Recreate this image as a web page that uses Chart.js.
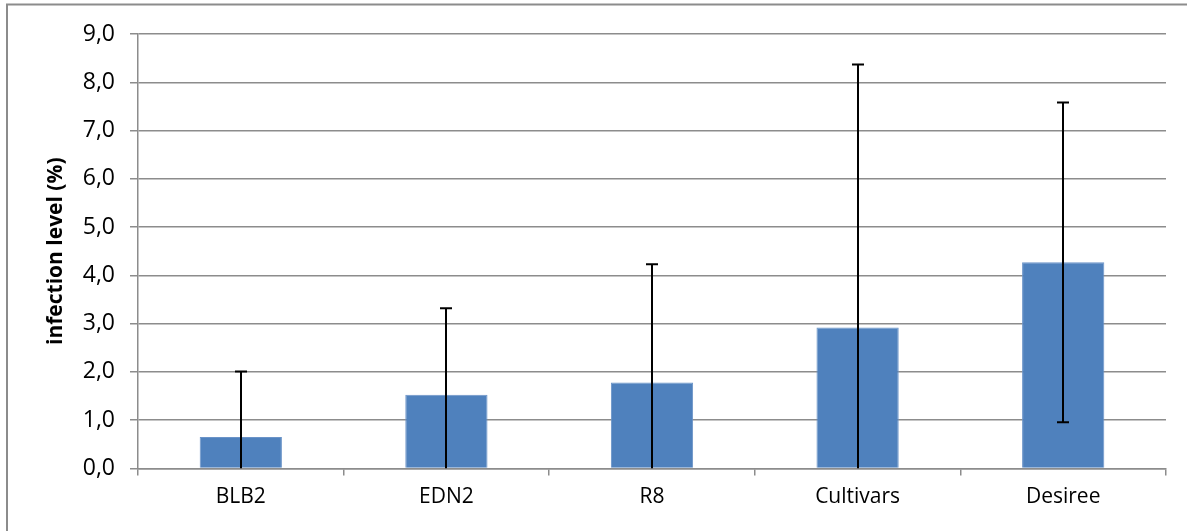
<!DOCTYPE html>
<html>
<head>
<meta charset="utf-8">
<script src="https://cdn.jsdelivr.net/npm/chart.js@4/dist/chart.umd.min.js"></script>
<style>
  html, body { margin: 0; padding: 0; background: #ffffff; }
  #wrap { position: relative; width: 1187px; height: 531px; }
</style>
</head>
<body>
<div id="wrap"><canvas id="c" width="1187" height="531"></canvas></div>
<script>
const categories = ['BLB2', 'EDN2', 'R8', 'Cultivars', 'Desiree'];
const infectionMeans = [0.65, 1.53, 1.78, 2.92, 4.27];
const infectionErrors = [1.36, 1.79, 2.45, 5.45, 3.31];
const yTickLabels = ['0,0', '1,0', '2,0', '3,0', '4,0', '5,0', '6,0', '7,0', '8,0', '9,0'];
const yAxisTitle = 'infection level (%)';

const FONT = "'Open Sans', 'DejaVu Sans', sans-serif";

const frame = {
  id: 'frame',
  beforeDraw(chart) {
    const ctx = chart.ctx;
    ctx.save();
    ctx.fillStyle = '#ffffff';
    ctx.fillRect(0, 0, chart.width, chart.height);
    ctx.strokeStyle = '#8c8c8c';
    ctx.lineWidth = 2;
    ctx.strokeRect(7, 4.5, chart.width + 20, chart.height + 20);
    ctx.restore();
  }
};

const errorBars = {
  id: 'errorBars',
  afterDatasetsDraw(chart) {
    const ctx = chart.ctx;
    const meta = chart.getDatasetMeta(0);
    const yScale = chart.scales.y;
    const area = chart.chartArea;
    ctx.save();
    ctx.beginPath();
    ctx.rect(area.left, area.top - 2, area.right - area.left, area.bottom - area.top + 2);
    ctx.clip();
    ctx.strokeStyle = '#000000';
    ctx.lineWidth = 2;
    meta.data.forEach((bar, i) => {
      const x = Math.round(bar.x);
      const hi = yScale.getPixelForValue(infectionMeans[i] + infectionErrors[i]);
      const loVal = infectionMeans[i] - infectionErrors[i];
      const lo = yScale.getPixelForValue(loVal);
      ctx.beginPath();
      ctx.moveTo(x, hi);
      ctx.lineTo(x, Math.min(lo, area.bottom));
      ctx.moveTo(x - 6, hi);
      ctx.lineTo(x + 6, hi);
      if (loVal > 0) {
        ctx.moveTo(x - 6, lo);
        ctx.lineTo(x + 6, lo);
      }
      ctx.stroke();
    });
    ctx.restore();
  }
};

new Chart(document.getElementById('c'), {
  type: 'bar',
  data: {
    labels: categories,
    datasets: [{
      data: infectionMeans,
      backgroundColor: '#4f81bd',
      borderColor: '#6a93c8',
      borderWidth: 1,
      barPercentage: 0.4,
      categoryPercentage: 1.0
    }]
  },
  options: {
    responsive: false,
    animation: false,
    devicePixelRatio: 1,
    layout: { padding: { left: 0, top: 34, right: 21, bottom: 0 } },
    plugins: {
      legend: { display: false },
      tooltip: { enabled: false }
    },
    scales: {
      x: {
        offset: true,
        grid: {
          display: true,
          offset: true,
          drawOnChartArea: false,
          drawTicks: true,
          tickLength: 7,
          color: '#8c8c8c',
          lineWidth: 1.5
        },
        border: { display: true, color: '#8c8c8c', width: 1.5 },
        ticks: {
          color: '#000000',
          font: { family: FONT, size: 21 },
          padding: 9,
          maxRotation: 0
        },
        afterFit(scale) { scale.height = 62.5; }
      },
      y: {
        min: 0,
        max: 9,
        ticks: {
          stepSize: 1,
          color: '#000000',
          font: { family: FONT, size: 23 },
          padding: 15,
          callback: (v, i) => yTickLabels[i]
        },
        grid: {
          color: '#8c8c8c',
          lineWidth: 1.5,
          drawTicks: true,
          tickLength: 8
        },
        border: { display: true, color: '#8c8c8c', width: 1.5 },
        title: {
          display: true,
          text: yAxisTitle,
          color: '#000000',
          font: { family: FONT, size: 21, weight: 'bold' },
          padding: { top: 43, bottom: 0 }
        },
        afterFit(scale) { scale.width = 138; }
      }
    }
  },
  plugins: [frame, errorBars]
});
</script>
</body>
</html>
